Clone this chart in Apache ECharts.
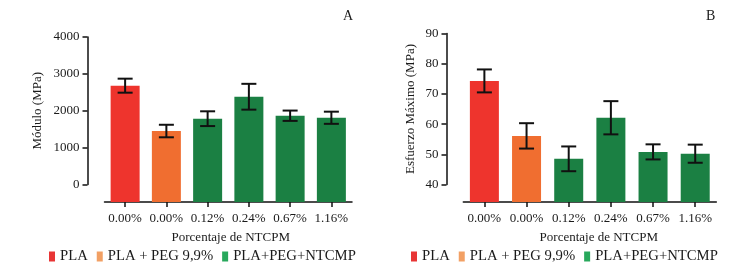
<!DOCTYPE html>
<html>
<head>
<meta charset="utf-8">
<script src="https://cdn.jsdelivr.net/npm/echarts@6/dist/echarts.min.js"></script>
<style>
html,body{margin:0;padding:0;background:#fff;}
#chart{width:738px;height:269px;}
</style>
</head>
<body>
<div id="chart"></div>
<script>
// ---- data ----
const categories = ['0.00%', '0.00%', '0.12%', '0.24%', '0.67%', '1.16%'];
const groupOfBar = [0, 1, 2, 2, 2, 2];
const groupNames = ['PLA', 'PLA + PEG 9,9%', 'PLA+PEG+NTCMP'];
const moduloValues = [2680, 1450, 1785, 2380, 1865, 1810];
const moduloErrors = [190, 170, 200, 350, 140, 165];
const esfuerzoValues = [74.3, 56.1, 48.5, 62.1, 50.8, 50.2];
const esfuerzoErrors = [3.8, 4.2, 4.1, 5.5, 2.5, 3.0];
const moduloTicks = [0, 1000, 2000, 3000, 4000];
const esfuerzoTicks = [40, 50, 60, 70, 80, 90];

// ---- style ----
const FONT = "'Liberation Serif', 'Times New Roman', serif";
const barColors = ['#EE342D', '#F06E30', '#1B8043'];
const legendColors = ['#E83535', '#F2A064', '#28A85C'];
const TXT = '#1a1a1a';

// layout (px)
const L = { left: 104.5, width: 247.5, axisX: 87.5, top: 37, zeroY: 184.5, baseY: 202 };
const R = { left: 463.3, width: 253, axisX: 446.5, top: 33.5, zeroY: 184.5, baseY: 202 };

function extMin(ticks, p) {
  const tmin = ticks[0], tmax = ticks[ticks.length - 1];
  const perPx = (tmax - tmin) / (p.zeroY - p.top);
  return tmin - (p.baseY - p.zeroY) * perPx;
}

const chart = echarts.init(document.getElementById('chart'), null, { renderer: 'canvas' });

function barSeries(xi, yi, values, yMin) {
  return {
    type: 'custom', xAxisIndex: xi, yAxisIndex: yi, silent: true,
    data: values.map((v, i) => [i, v]),
    renderItem: function (params, api) {
      const i = api.value(0), v = api.value(1);
      const top = api.coord([i, v]);
      const base = api.coord([i, yMin]);
      const w = 29;
      return {
        type: 'rect',
        shape: { x: top[0] - w / 2, y: top[1], width: w, height: base[1] - top[1] },
        style: { fill: barColors[groupOfBar[i]] }
      };
    }
  };
}
function errSeries(xi, yi, values, errs) {
  return {
    type: 'custom', xAxisIndex: xi, yAxisIndex: yi, silent: true, z: 5,
    data: values.map((v, i) => [i, v - errs[i], v + errs[i]]),
    renderItem: function (params, api) {
      const i = api.value(0);
      const lo = api.coord([i, api.value(1)]);
      const hi = api.coord([i, api.value(2)]);
      const cw = 7.5;
      const st = { stroke: '#111', lineWidth: 2 };
      return {
        type: 'group',
        children: [
          { type: 'line', shape: { x1: lo[0], y1: lo[1], x2: hi[0], y2: hi[1] }, style: st },
          { type: 'line', shape: { x1: hi[0] - cw, y1: hi[1], x2: hi[0] + cw, y2: hi[1] }, style: st },
          { type: 'line', shape: { x1: lo[0] - cw, y1: lo[1], x2: lo[0] + cw, y2: lo[1] }, style: st }
        ]
      };
    }
  };
}

const axisLineStyle = { color: '#111', width: 1.5 };
const axisTick = { show: true, length: 5, lineStyle: { color: '#111', width: 1.5 } };
const tickLabel = { color: TXT, fontFamily: FONT, fontSize: 13 };

function catAxis(grid, nameShift) {
  return {
    type: 'category', gridIndex: grid, data: categories, position: 'bottom',
    axisLine: { show: true, onZero: false, lineStyle: axisLineStyle },
    axisTick: Object.assign({ alignWithLabel: true }, axisTick),
    axisLabel: Object.assign({ margin: 10, interval: 0 }, tickLabel),
    name: 'Porcentaje de NTCPM', nameLocation: 'middle', nameGap: 29,
    nameTextStyle: { color: TXT, fontFamily: FONT, fontSize: 13, padding: [0, 0, 0, nameShift] }
  };
}
function hiddenCat(grid) {
  return { type: 'category', gridIndex: grid, data: categories, show: false };
}
function hiddenVal(grid, min, max) {
  return { type: 'value', gridIndex: grid, min: min, max: max, show: false, splitLine: { show: false } };
}
function shownVal(grid, ticks, name, gap) {
  return {
    type: 'value', gridIndex: grid,
    min: ticks[0], max: ticks[ticks.length - 1], interval: ticks[1] - ticks[0],
    axisLine: { show: true, onZero: false, lineStyle: axisLineStyle },
    axisTick: axisTick, splitLine: { show: false },
    axisLabel: Object.assign({ margin: 8, formatter: v => String(v) }, tickLabel),
    name: name, nameLocation: 'middle', nameGap: gap, nameRotate: 90,
    nameTextStyle: { color: TXT, fontFamily: FONT, fontSize: 13 }
  };
}

const minA = extMin(moduloTicks, L);
const minB = extMin(esfuerzoTicks, R);

const legendCommon = {
  orient: 'horizontal', icon: 'rect', itemWidth: 6, itemHeight: 10, itemGap: 9,
  top: 244, selectedMode: false,
  textStyle: { color: TXT, fontFamily: FONT, fontSize: 14.7 },
  data: groupNames
};

const option = {
  animation: false,
  backgroundColor: '#fff',
  title: [
    { text: 'A', left: 338, top: 4, textStyle: { color: TXT, fontFamily: FONT, fontSize: 14, fontWeight: 'normal' } },
    { text: 'B', left: 701, top: 4, textStyle: { color: TXT, fontFamily: FONT, fontSize: 14, fontWeight: 'normal' } }
  ],
  legend: [
    Object.assign({ left: 44 }, legendCommon),
    Object.assign({ left: 406 }, legendCommon)
  ],
  grid: [
    { left: L.left, top: L.top, width: L.width, height: L.baseY - L.top },
    { left: L.axisX, top: L.top, width: 1, height: L.zeroY - L.top },
    { left: R.left, top: R.top, width: R.width, height: R.baseY - R.top },
    { left: R.axisX, top: R.top, width: 1, height: R.zeroY - R.top }
  ],
  xAxis: [catAxis(0, 5), hiddenCat(1), catAxis(2, 18), hiddenCat(3)],
  yAxis: [
    hiddenVal(0, minA, moduloTicks[moduloTicks.length - 1]),
    shownVal(1, moduloTicks, 'Módulo (MPa)', 43),
    hiddenVal(2, minB, esfuerzoTicks[esfuerzoTicks.length - 1]),
    shownVal(3, esfuerzoTicks, 'Esfuerzo Máximo (MPa)', 29)
  ],
  series: [
    barSeries(0, 0, moduloValues, minA),
    errSeries(0, 0, moduloValues, moduloErrors),
    barSeries(2, 2, esfuerzoValues, minB),
    errSeries(2, 2, esfuerzoValues, esfuerzoErrors)
  ].concat(groupNames.map((n, k) => ({
    type: 'bar', name: n, xAxisIndex: 0, yAxisIndex: 0, data: [],
    itemStyle: { color: legendColors[k] }
  })))
};
chart.setOption(option);
</script>
</body>
</html>
